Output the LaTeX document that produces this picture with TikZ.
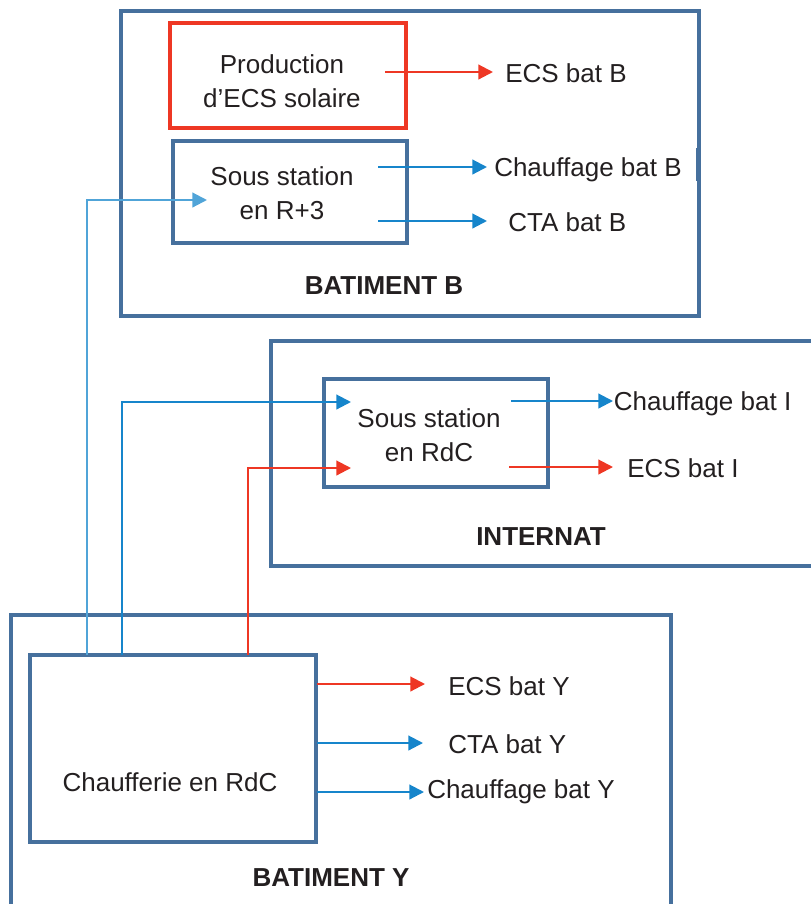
\documentclass[tikz,border=0pt]{standalone}
\usepackage{fontspec}
\setmainfont{Liberation Sans}
\usetikzlibrary{arrows.meta}
\definecolor{frame}{RGB}{70,112,157}
\definecolor{hot}{RGB}{238,55,36}
\definecolor{cold}{RGB}{22,133,203}
\definecolor{ink}{RGB}{35,31,32}
\tikzset{
  every node/.style={font=\fontsize{19.5}{25.5}\selectfont, text=ink},
  framebox/.style={draw=frame, line width=3.2pt, inner sep=0pt},
  redbox/.style={draw=hot, line width=3.2pt, inner sep=0pt},
  boxtext/.style={align=center, inner sep=0pt},
  title/.style={font=\fontsize{19.5}{25.5}\selectfont\bfseries, inner sep=0pt},
  lbl/.style={anchor=west, inner ysep=0pt, text height=14pt, text depth=0pt},
  hotarrow/.style={draw=hot, line width=1.6pt, -{Triangle[length=11pt,width=11pt]}},
  coldarrow/.style={draw=cold, line width=1.6pt, -{Triangle[length=11pt,width=11pt]}},
  hotline/.style={draw=hot, line width=1.6pt},
  coldline/.style={draw=cold, line width=1.6pt},
}
\begin{document}
\begin{tikzpicture}[x=0.75pt,y=-0.75pt]
\useasboundingbox (0,0) rectangle (811,904);
\clip (0,0) rectangle (811,904);

% outer building boxes
\node[framebox, minimum width=433.5pt, minimum height=228.75pt] (batB) at (410,163.5) {};
\node[framebox, minimum width=419.25pt, minimum height=168.75pt] (internat) at (550.5,453.5) {};
\node[framebox, minimum width=495pt, minimum height=236.25pt] (batY) at (341,772.5) {};
\draw[frame, line width=3.6pt] (698,148) -- (698,181);

% inner boxes
\node[redbox, minimum width=177pt, minimum height=78.75pt] (prod) at (288,75.5) {};
\node[framebox, minimum width=175.5pt, minimum height=76.5pt] (ssB) at (290,192) {};
\node[framebox, minimum width=168pt, minimum height=81pt] (ssI) at (436,433) {};
\node[framebox, minimum width=214.5pt, minimum height=140.25pt] (chauf) at (173,748.5) {};

% box texts
\node[boxtext] (prodT) at (282,81) {Production\\d’ECS solaire};
\node[boxtext] (ssBT) at (282,193) {Sous station\\en R+3};
\node[boxtext] (ssIT) at (429,435) {Sous station\\en RdC};
\node[boxtext] (chaufT) at (170,782) {Chaufferie en RdC};

% titles
\node[title] (tB) at (384,286) {BATIMENT B};
\node[title] (tI) at (541,537) {INTERNAT};
\node[title] (tY) at (331,878) {BATIMENT Y};

% output labels
\node[lbl, inner xsep=9pt] (eB) at (493,73) {ECS bat B};
\node[lbl, inner xsep=5.25pt] (hB) at (487,167) {Chauffage bat B};
\node[lbl, inner xsep=15.75pt] (cB) at (487,222) {CTA bat B};
\node[lbl, inner xsep=0.5pt] (hI) at (613,401) {Chauffage bat I};
\node[lbl, inner xsep=10.5pt] (eI) at (613,468) {ECS bat I};
\node[lbl, inner xsep=17.25pt] (eY) at (425,686) {ECS bat Y};
\node[lbl, inner xsep=18.75pt] (cY) at (423,744) {CTA bat Y};
\node[lbl, inner xsep=2.25pt] (hY) at (424,789) {Chauffage bat Y};

% start points of output arrows
\coordinate (sEB) at (385,72);
\coordinate (sHB) at (378,167);
\coordinate (sCB) at (378,221);
\coordinate (sHI) at (511,401);
\coordinate (sEI) at (509,467);
\coordinate (sEY) at (317,684);
\coordinate (sCY) at (317,743);
\coordinate (sHY) at (317,792);

\draw[hotarrow] (sEB) -- (sEB -| eB.west);
\draw[coldarrow] (sHB) -- (sHB -| hB.west);
\draw[coldarrow] (sCB) -- (sCB -| cB.west);
\draw[coldarrow] (sHI) -- (sHI -| hI.west);
\draw[hotarrow] (sEI) -- (sEI -| eI.west);
\draw[hotarrow] (sEY) -- (sEY -| eY.west);
\draw[coldarrow] (sCY) -- (sCY -| cY.west);
\draw[coldarrow] (sHY) -- (sHY -| hY.west);

% distribution from the chaufferie
\coordinate (o1) at (87,655);
\coordinate (o2) at (122,655);
\coordinate (o3) at (248,655);
\coordinate (inB) at (207,200);
\coordinate (inI1) at (351,402);
\coordinate (inI2) at (351,468);
\draw[coldarrow, draw=cold!75] (o1) |- (inB);
\draw[coldarrow] (o2) |- (inI1);
\draw[hotarrow] (o3) |- (inI2);
\end{tikzpicture}
\end{document}
